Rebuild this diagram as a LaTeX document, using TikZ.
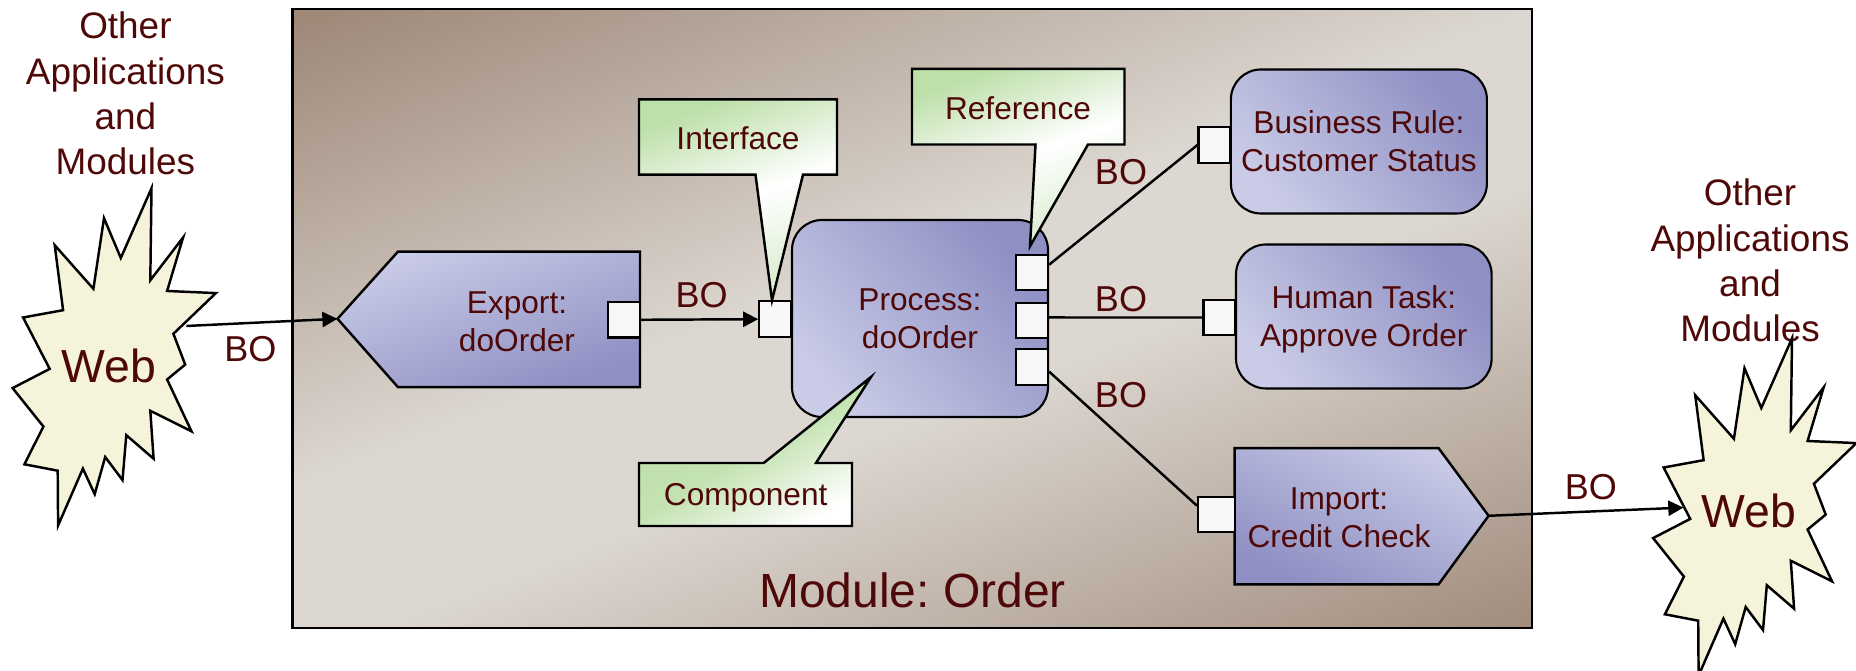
\documentclass[tikz,border=0pt]{standalone}
\usepackage{fontspec}
\setmainfont{Liberation Sans}
\usepackage{tikz}
\usetikzlibrary{arrows.meta}

\definecolor{inkred}{HTML}{4F0808}
\definecolor{framebrown}{HTML}{9E8878}
\definecolor{framelight}{HTML}{DCD7D1}
\definecolor{complight}{HTML}{C9CBE7}
\definecolor{compdark}{HTML}{8E8FC3}
\definecolor{notegreen}{HTML}{BDDFA9}
\definecolor{burstyellow}{HTML}{F5F3DA}
\definecolor{portwhite}{HTML}{F7F7F7}

\pgfdeclareverticalshading{modulefade}{100bp}{color(0bp)=(framebrown); color(16bp)=(framebrown); color(44bp)=(framelight); color(54bp)=(framelight); color(82bp)=(framebrown); color(100bp)=(framebrown)}

\tikzset{
  txt/.style={text=inkred, align=center, inner sep=0pt, font=\fontsize{9}{10.8}\selectfont},
  bigtxt/.style={txt, font=\fontsize{10.5}{12.9}\selectfont},
  botxt/.style={txt, font=\fontsize{10.25}{12}\selectfont},
  comp/.style={draw, line width=0.6pt, rounded corners=0.3cm, inner sep=0pt, text=inkred, align=center,
    font=\fontsize{9}{10.8}\selectfont, bottom color=complight, top color=compdark, middle color=compdark!50!complight, shading angle=-50},
  port/.style={draw, line width=0.6pt, fill=portwhite, inner sep=0pt, minimum width=0.32cm, minimum height=0.355cm},
  callout/.style={draw, line width=0.7pt, top color=notegreen, bottom color=notegreen!60!white, middle color=white},
  link/.style={line width=0.7pt},
  flow/.style={link, -{Triangle[length=4.3pt,width=4.3pt]}},
  burst/.style={draw, line width=0.7pt, fill=burstyellow}
}

\newcommand{\burstpath}{(1.515,1.883) -- (1.503,2.803) -- (1.831,2.375) -- (1.671,2.91) -- (2.159,2.931) -- (1.734,3.338) -- (1.852,3.646) -- (1.671,3.795) -- (1.915,4.313) -- (1.503,4.108) -- (1.536,4.587) -- (1.263,4.352) -- (1.225,4.801) -- (1.052,4.57) -- (0.947,4.942) -- (0.829,4.686) -- (0.581,5.255) -- (0.577,4.707) -- (0.244,4.643) -- (0.434,4.266) -- (0.126,3.881) -- (0.497,3.689) -- (0.231,3.175) -- (0.631,3.102) -- (0.547,2.452) -- (0.934,2.888) -- (1.04,2.182) -- (1.208,2.58) -- cycle}

\begin{document}
\frenchspacing
\begin{tikzpicture}[yscale=-1]
\useasboundingbox (0,0) rectangle (18.56,6.71);

% module frame
\draw [line width=0.8pt, shade, shading=modulefade, shading angle=21] (2.925,0.09) rectangle (15.32,6.28);
\node (moduletxt) [txt, font=\fontsize{13.66}{16}\selectfont] at (9.125,5.90) {Module: Order};

% outside
\node (lefttxt) [bigtxt] at (1.254,0.935) {Other\\Applications\\and\\Modules};
\draw [burst] \burstpath;
\node (leftweb) [txt, font=\fontsize{13.2}{16}\selectfont] at (1.086,3.655) {Web};
\coordinate (webout) at (1.864,3.26);

\node (righttxt) [bigtxt] at (17.5,2.605) {Other\\Applications\\and\\Modules};
\begin{scope}[shift={(16.405,1.5)}]
\draw [burst] \burstpath;
\end{scope}
\node (rightweb) [txt, font=\fontsize{13.2}{16}\selectfont] at (17.49,5.11) {Web};
\coordinate (webin) at (16.834,5.076);

% export
\coordinate (exporttip) at (3.375,3.188);
\draw [link, top color=complight, bottom color=compdark, middle color=compdark!50!complight, shading angle=20] (exporttip) -- (3.98,2.516) -- (6.40,2.516) -- (6.40,3.872) -- (3.98,3.872) -- cycle;
\node (exporttxt) [txt] at (5.17,3.215) {Export:\\doOrder};
\node (exportport) [port] at (6.24,3.198) {};

% process
\node (process) [comp, minimum width=2.56cm, minimum height=1.97cm] at (9.20,3.185) {Process:\\doOrder};
\node (ifport) [port] at (7.753,3.192) {};
\node (refport1) [port] at (10.32,2.727) {};
\node (refport2) [port] at (10.32,3.205) {};
\node (refport3) [port] at (10.32,3.67) {};

% targets
\node (rule) [comp, minimum width=2.56cm, minimum height=1.44cm] at (13.589,1.415) {Business Rule:\\Customer Status};
\node (ruleport) [port] at (12.145,1.45) {};
\node (task) [comp, text depth=0pt, minimum width=2.556cm, minimum height=1.44cm] at (13.638,3.165) {Human Task:\\Approve Order};
\node (taskport) [port] at (12.195,3.175) {};

\coordinate (importtip) at (14.886,5.158);
\draw [link, top color=complight, bottom color=compdark, middle color=compdark!50!complight, shading angle=-25] (importtip) -- (14.386,4.482) -- (12.347,4.482) -- (12.347,5.843) -- (14.386,5.843) -- cycle;
\node (importtxt) [txt] at (13.39,5.18) {Import:\\Credit Check};
\node (importport) [port, minimum width=0.367cm] at (12.163,5.147) {};

% connectors
\draw [flow] (webout) -- (exporttip);
\draw [flow] (exportport.east) -- (ifport.west);
\draw [link] (refport1.25) -- (ruleport.west);
\draw [link] (refport2.10) -- (taskport.west);
\draw [link] (refport3.-15) -- (importport.155);
\draw [flow] (importtip) -- (webin);

\node (bo1) [botxt] at (2.504,3.495) {BO};
\node (bo2) [botxt] at (7.016,2.95) {BO};
\node (bo3) [botxt] at (11.21,1.72) {BO};
\node (bo4) [botxt] at (11.21,2.99) {BO};
\node (bo5) [botxt] at (11.21,3.955) {BO};
\node (bo6) [botxt] at (15.908,4.875) {BO};

% callouts
\draw [callout, shading angle=20] (6.39,0.994) -- (8.37,0.994) -- (8.37,1.747) -- (8.03,1.747) -- (7.72,3.004) -- (7.555,1.747) -- (6.39,1.747) -- cycle;
\node (iftxt) [txt] at (7.38,1.38) {Interface};
\draw [callout, shading angle=20] (9.12,0.689) -- (11.245,0.689) -- (11.245,1.445) -- (10.88,1.445) -- (10.30,2.463) -- (10.355,1.445) -- (9.12,1.445) -- cycle;
\node (reftxt) [txt] at (10.18,1.08) {Reference};
\draw [line width=0.7pt, top color=notegreen, bottom color=white, middle color=notegreen!90!white, shading angle=30] (6.39,4.63) -- (7.637,4.63) -- (8.71,3.77) -- (8.16,4.63) -- (8.52,4.63) -- (8.52,5.26) -- (6.39,5.26) -- cycle;
\node (comptxt) [txt] at (7.457,4.98) {Component};
\end{tikzpicture}
\end{document}
